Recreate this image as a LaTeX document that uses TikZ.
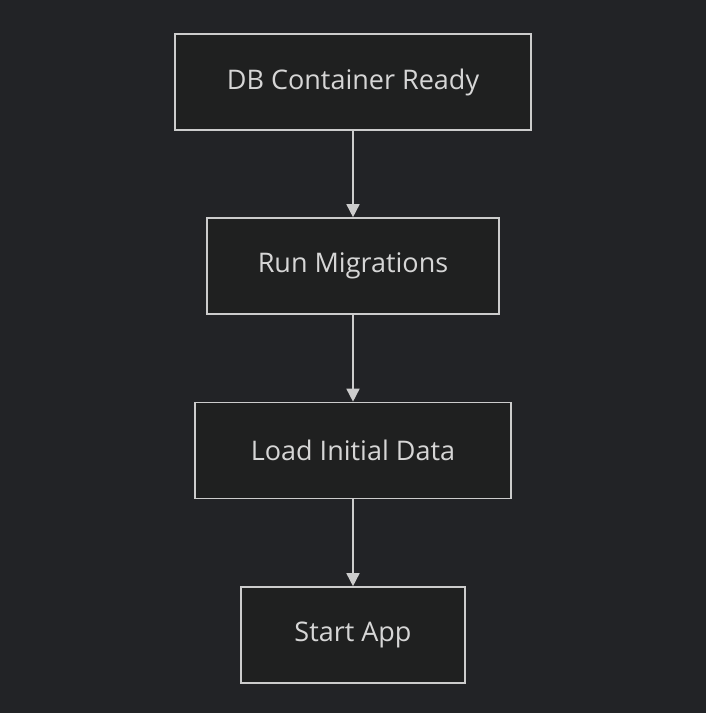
\documentclass[tikz,border=0pt]{standalone}
\usepackage{fontspec}
\setmainfont{Open Sans}
\usepackage{tikz}
\usetikzlibrary{arrows.meta,positioning}
\definecolor{bg}{HTML}{222326}
\definecolor{boxfill}{HTML}{1F2020}
\definecolor{edge}{HTML}{CCCCCC}
\definecolor{txt}{HTML}{D6D6D6}
\tikzset{
  stepbox/.style={draw=edge, fill=boxfill, line width=1.6pt, minimum height=96pt,
    inner sep=0pt, text=txt, font=\fontsize{27}{30}\selectfont},
  flow/.style={draw=edge, line width=1.6pt, -{Triangle[length=13pt,width=13pt]}},
}
\begin{document}
\begin{tikzpicture}[x=1pt,y=1pt]
\fill[bg] (0,0) rectangle (706,713);
\useasboundingbox (0,0) rectangle (706,713);
\node[stepbox, minimum width=356pt] (ready) at (353,631) {DB Container Ready};
\node[stepbox, minimum width=292pt] (migrate) at (353,447) {Run Migrations};
\node[stepbox, minimum width=316pt] (load) at (353,262.5) {Load Initial Data};
\node[stepbox, minimum width=224pt] (start) at (353,78) {Start App};
\draw[flow] (ready) -- (migrate);
\draw[flow] (migrate) -- (load);
\draw[flow] (load) -- (start);
\end{tikzpicture}
\end{document}
